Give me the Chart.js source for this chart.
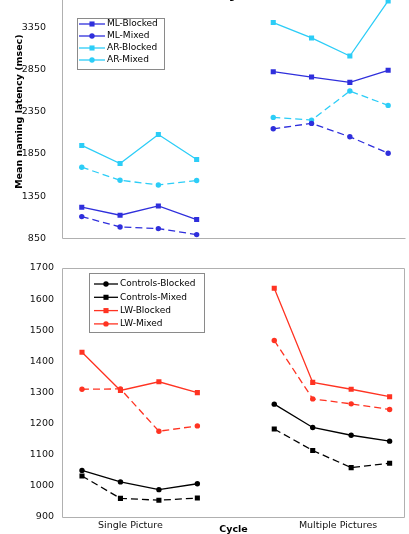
<!DOCTYPE html>
<html>
<head>
<meta charset="utf-8">
<script src="https://cdn.jsdelivr.net/npm/chart.js@4.4.0/dist/chart.umd.min.js"></script>
<style>
  body { margin: 0; width: 409px; height: 534px; overflow: hidden; background: #fff; position: relative; }
  #topBox { position: absolute; left: 0; top: -40px; width: 409px; height: 292px; }
  #botBox { position: absolute; left: 0; top: 250px; width: 409px; height: 300px; }
  #title { position: absolute; left: 0; width: 424px; top: -9px; text-align: center; font: bold 9px "DejaVu Sans"; line-height: 10px; }
</style>
</head>
<body>
<div id="topBox"><canvas id="topChart"></canvas></div>
<div id="botBox"><canvas id="botChart"></canvas></div>
<div id="title">Matching</div>
<script>
// two picture conditions, four cycles each
const groups = ['Single Picture', 'Multiple Pictures'];
const cycles = [1, 2, 3, 4];

// top panel (msec)
const mlBlocked = [1218, 1123, 1233, 1072, 2823, 2760, 2697, 2840];
const mlMixed   = [1107, 984, 965, 894, 2147, 2211, 2052, 1858];
const arBlocked = [1950, 1736, 2080, 1784, 3405, 3223, 3009, 3662];
const arMixed   = [1692, 1538, 1482, 1535, 2282, 2250, 2594, 2424];

// bottom panel (msec)
const ctrlBlocked = [1049, 1012, 987, 1006, 1262, 1187, 1162, 1143];
const ctrlMixed   = [1031, 959, 953, 960, 1182, 1113, 1058, 1072];
const lwBlocked   = [1429, 1306, 1334, 1299, 1635, 1332, 1310, 1286];
const lwMixed     = [1310, 1311, 1175, 1192, 1467, 1279, 1263, 1245];

Chart.defaults.font.family = '"DejaVu Sans"';
Chart.defaults.font.size = 9;
Chart.defaults.color = '#111';

const BLUE = '#2f2fdc';
const CYAN = '#2ccdf7';
const RED = '#ff3322';
const BLACK = '#000';

// cycle c of group g sits at x = g*5 + (c-1); a null point breaks the line between groups
function toPoints(values) {
  const pts = [];
  groups.forEach((g, gi) => {
    cycles.forEach((c, ci) => {
      pts.push({ x: gi * 5 + ci, y: values[gi * cycles.length + ci] });
    });
    if (gi < groups.length - 1) pts.push({ x: gi * 5 + 4, y: null });
  });
  return pts;
}

function series(label, values, color, style, dashed) {
  return {
    label: label,
    data: toPoints(values),
    borderColor: color,
    backgroundColor: color,
    borderWidth: 1.3,
    borderDash: dashed ? [7, 4] : [],
    pointStyle: style,
    pointRadius: style === 'rect' ? 3.6 : 2.7,
    pointBorderWidth: 0,
    spanGaps: false
  };
}

const boxLegend = {
  id: 'boxLegend',
  afterDraw(chart, args, o) {
    const ctx = chart.ctx;
    ctx.save();
    ctx.fillStyle = '#fff';
    ctx.fillRect(o.x, o.y, o.w, o.h);
    ctx.strokeStyle = '#8a8a8a';
    ctx.lineWidth = 1;
    ctx.strokeRect(o.x + 0.5, o.y + 0.5, o.w, o.h);
    ctx.font = '9px "DejaVu Sans"';
    ctx.textBaseline = 'middle';
    chart.data.datasets.forEach((ds, i) => {
      const y = o.y + o.first + i * o.row;
      ctx.strokeStyle = ds.borderColor;
      ctx.fillStyle = ds.backgroundColor;
      ctx.lineWidth = 1.3;
      ctx.setLineDash([]);
      ctx.beginPath();
      ctx.moveTo(o.x + o.lineFrom, y);
      ctx.lineTo(o.x + o.lineTo, y);
      ctx.stroke();
      Chart.helpers.drawPoint(ctx, { pointStyle: ds.pointStyle, radius: ds.pointRadius, rotation: 0, borderWidth: 0 }, o.x + o.mark, y);
      ctx.fillStyle = '#000';
      ctx.fillText(ds.label, o.x + o.textX, y);
    });
    ctx.restore();
  }
};

// plot-area outline (full box on the bottom panel, left + bottom on the top one)
const frame = {
  id: 'frame',
  beforeDatasetsDraw(chart, args, o) {
    const a = chart.chartArea;
    const ctx = chart.ctx;
    const l = Math.round(a.left) + 0.5, r = Math.round(a.right) - 0.5;
    const t = Math.round(a.top) + 0.5, b = Math.round(a.bottom) + 0.5;
    ctx.save();
    ctx.strokeStyle = '#b0b0b0';
    ctx.lineWidth = 1;
    ctx.beginPath();
    if (o.full) {
      ctx.rect(l, t, r - l, b - t);
    } else {
      ctx.moveTo(l, t - 40);
      ctx.lineTo(l, b);
      ctx.lineTo(r + 1, b);
    }
    ctx.stroke();
    ctx.restore();
  }
};

new Chart(document.getElementById('topChart'), {
  type: 'line',
  data: {
    datasets: [
      series('ML-Blocked', mlBlocked, BLUE, 'rect', false),
      series('ML-Mixed', mlMixed, BLUE, 'circle', true),
      series('AR-Blocked', arBlocked, CYAN, 'rect', false),
      series('AR-Mixed', arMixed, CYAN, 'circle', true)
    ]
  },
  plugins: [boxLegend, frame],
  options: {
    responsive: true,
    maintainAspectRatio: false,
    animation: false,
    layout: { padding: { top: 25, bottom: 6, left: 0, right: 0 } },
    plugins: {
      legend: { display: false },
      tooltip: { enabled: false },
      boxLegend: { x: 77, y: 58, w: 87, h: 51, first: 6, row: 12, lineFrom: 2, lineTo: 28, mark: 15, textX: 30 },
      frame: { full: false }
    },
    scales: {
      x: { type: 'linear', min: -0.516, max: 8.44, display: false },
      y: {
        min: 850, max: 3850,
        grid: { display: false },
        border: { display: false },
        ticks: { stepSize: 500, padding: 8, font: { size: 9.5 }, callback: v => v },
        title: { display: true, text: 'Mean naming latency (msec)', font: { size: 9.5, weight: 'bold' }, color: '#000', padding: { top: 14, bottom: 0 } },
        afterFit(s) { s.width = 62; }
      }
    }
  }
});

new Chart(document.getElementById('botChart'), {
  type: 'line',
  data: {
    datasets: [
      series('Controls-Blocked', ctrlBlocked, BLACK, 'circle', false),
      series('Controls-Mixed', ctrlMixed, BLACK, 'rect', true),
      series('LW-Blocked', lwBlocked, RED, 'rect', false),
      series('LW-Mixed', lwMixed, RED, 'circle', true)
    ]
  },
  plugins: [boxLegend, frame],
  options: {
    responsive: true,
    maintainAspectRatio: false,
    animation: false,
    layout: { padding: { top: 18, bottom: 0, left: 0, right: 4 } },
    plugins: {
      legend: { display: false },
      tooltip: { enabled: false },
      boxLegend: { x: 89, y: 23, w: 115, h: 59, first: 11, row: 13.3, lineFrom: 5, lineTo: 29, mark: 17, textX: 31 },
      frame: { full: true }
    },
    scales: {
      x: {
        type: 'linear', min: -0.52, max: 8.40,
        grid: { display: false, drawTicks: false },
        border: { display: false },
        afterBuildTicks(s) { s.ticks = [{ value: 1.26 }, { value: 6.66 }]; },
        ticks: {
          autoSkip: false, maxRotation: 0, padding: 3, font: { size: 9.5 },
          callback: (v, i) => groups[i]
        },
        title: { display: true, text: 'Cycle', font: { size: 9.5, weight: 'bold' }, color: '#000', padding: { top: 0, bottom: 15 } },
        afterFit(s) { s.height = 33.3; }
      },
      y: {
        min: 900, max: 1700,
        grid: { display: false, drawTicks: false },
        border: { display: false },
        ticks: { stepSize: 100, padding: 8, font: { size: 9.5 }, callback: v => v },
        afterFit(s) { s.width = 62; }
      }
    }
  }
});
</script>
</body>
</html>
